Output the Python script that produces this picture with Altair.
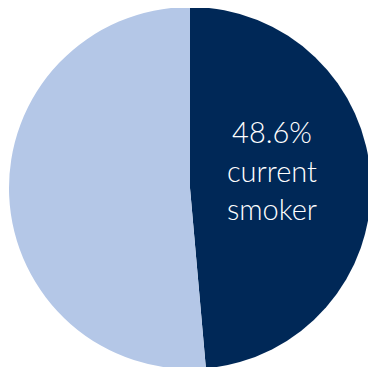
import altair as alt
import pandas as pd

categories = ["current smoker", "other"]
values = [48.6, 51.4]
colors = ["#002857", "#b4c7e7"]
label_lines = ["48.6%", "current", "smoker"]

df = pd.DataFrame({"category": categories, "value": values, "order": [0, 1]})
tdf = pd.DataFrame({"line": label_lines, "row": [0, 1, 2]})

pie = alt.Chart(df).mark_arc(radius=181, stroke=None).encode(
    theta=alt.Theta("value:Q", stack=True),
    order=alt.Order("order:Q"),
    color=alt.Color("category:N", scale=alt.Scale(domain=categories, range=colors), legend=None),
    x=alt.value(182),
    y=alt.value(180),
)

text = alt.Chart(tdf).mark_text(
    color="white", font="Lato", fontSize=29, fontWeight=300, align="center", baseline="alphabetic"
).encode(
    x=alt.value(264),
    y=alt.Y("row:Q", scale=alt.Scale(domain=[0, 2], range=[135, 212]), axis=None),
    text="line:N",
)

chart = alt.layer(pie, text).properties(
    width=360, height=359, autosize=alt.AutoSizeParams(type="none"), padding=0
).configure_view(stroke=None)

chart.save("out.html", embed_options={"renderer": "svg", "actions": False})
